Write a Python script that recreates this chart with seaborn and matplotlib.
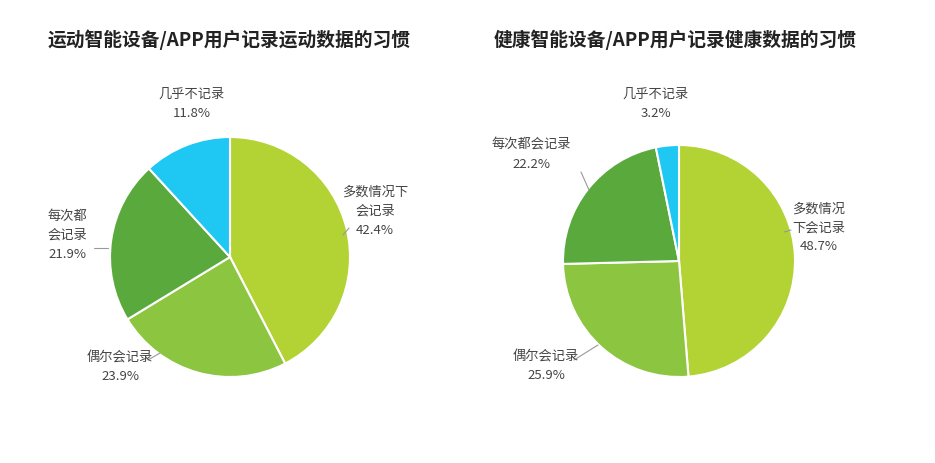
import matplotlib
matplotlib.use("Agg")
import matplotlib.pyplot as plt
import seaborn as sns
from matplotlib.lines import Line2D

sns.set_theme(style="white")
plt.rcParams['font.family'] = ['Noto Sans CJK SC', 'DejaVu Sans']

categories = ["多数情况下会记录", "偶尔会记录", "每次都会记录", "几乎不记录"]
sport_values = [42.4, 23.9, 21.9, 11.8]
health_values = [48.7, 25.9, 22.2, 3.2]
titles = ["运动智能设备/APP用户记录运动数据的习惯", "健康智能设备/APP用户记录健康数据的习惯"]
colors = ["#b3d334", "#8cc540", "#5aa93d", "#1ec8f2"]

W, H = 935, 463
fig = plt.figure(figsize=(W/100, H/100), dpi=100)

def fx(x): return x / W
def fy(y): return 1 - y / H

def pie(cx, cy, r, vals):
    ax = fig.add_axes([fx(cx - r), fy(cy + r), 2*r/W, 2*r/H])
    ax.pie(vals, colors=colors, startangle=90, counterclock=False,
           wedgeprops=dict(edgecolor="white", linewidth=1.5), radius=1)
    ax.set_xlim(-1, 1); ax.set_ylim(-1, 1); ax.set_aspect("auto")
    ax.axis("off")

pie(230, 257, 120, sport_values)
pie(679, 261, 116, health_values)

fig.text(fx(48), fy(40), titles[0], fontsize=13.5, fontweight="bold", color="#222222", va="center")
fig.text(fx(494), fy(40), titles[1], fontsize=13.5, fontweight="bold", color="#222222", va="center")

def lab(x, y, s, ha="center"):
    fig.text(fx(x), fy(y), s, fontsize=9.5, color="#444444", ha=ha, va="center", linespacing=1.6)

def line(pts):
    fig.add_artist(Line2D([fx(p[0]) for p in pts], [fy(p[1]) for p in pts], color="#999999", lw=0.8))

# left labels
lab(375, 211, f"多数情况下\n会记录\n{sport_values[0]}%")
lab(120, 367, f"偶尔会记录\n{sport_values[1]}%")
lab(67, 235, f"每次都\n会记录\n{sport_values[2]}%")
lab(192, 104, f"几乎不记录\n{sport_values[3]}%")
line([(349, 228), (343, 235)])
line([(148, 360), (160, 353)])
line([(94, 248), (108, 248)])
# right labels
lab(819, 228, f"多数情况\n下会记录\n{health_values[0]}%")
lab(546, 366, f"偶尔会记录\n{health_values[1]}%")
lab(531, 155, f"每次都会记录\n{health_values[2]}%")
lab(656, 104, f"几乎不记录\n{health_values[3]}%")
line([(791, 230), (784, 232)])
line([(574, 360), (598, 345)])
line([(581, 172), (589, 190)])

fig.savefig("out.png", dpi=100, facecolor="white")
